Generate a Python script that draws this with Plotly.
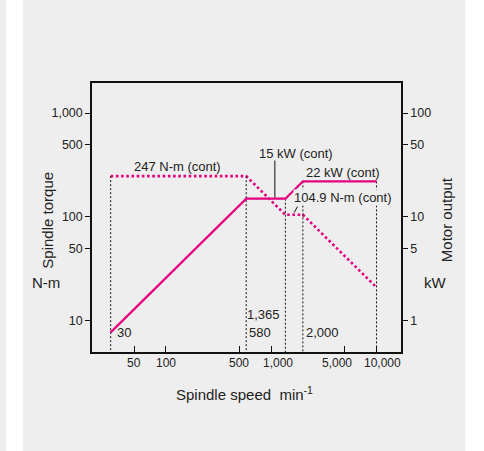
import math
import plotly.graph_objects as go

# ---- data ----
speed = [30, 580, 1365, 2000, 10000]          # min^-1
torque = [247, 247, 104.9, 105, 21]            # N-m (cont)
power = [0.776, 15, 15, 22, 22]                # kW (cont)
x_ticks = [50, 100, 500, 1000, 5000, 10000]
x_ticktext = ["50", "100", "500", "1,000", "5,000", "10,000"]
x_label_shift = [0, 0, 0, 6.5, -8, 6]          # label offsets (px) as in the original
yl_ticks = [10, 50, 100, 500, 1000]
yl_ticktext = ["10", "50", "100", "500", "1,000"]
yr_ticks = [1, 5, 10, 50, 100]
yr_ticktext = ["1", "5", "10", "50", "100"]

MAG = "#E4007F"
PANEL = "#EEEEEE"
TXT = "#222222"
FONT = "Liberation Sans, Arial, Helvetica, sans-serif"

fig = go.Figure()

# vertical guide lines (top = upper of the two curves, on kW scale)
vx, vy = [], []
for s, t, p in zip(speed, torque, power):
    top = max(t / 10.0, p)
    vx += [s, s, None]
    vy += [top, 0.01, None]
fig.add_trace(go.Scatter(x=vx, y=vy, yaxis="y2", mode="lines",
                         line=dict(color="#111111", width=1, dash="2px,2px"),
                         hoverinfo="skip", showlegend=False))

# torque (dotted)
fig.add_trace(go.Scatter(x=speed, y=torque, mode="lines",
                         line=dict(color=MAG, width=2.6, dash="2.6px,2.6px"),
                         showlegend=False))
# power (solid)
fig.add_trace(go.Scatter(x=speed, y=power, yaxis="y2", mode="lines",
                         line=dict(color=MAG, width=2.2),
                         showlegend=False))

# leader lines
fig.add_trace(go.Scatter(x=[1084, 1084, None, 1777, 1653],
                         y=[349, 150, None, 126, 110.3], mode="lines",
                         line=dict(color="#111111", width=1),
                         hoverinfo="skip", showlegend=False))

L = math.log10
ann_font = dict(family=FONT, size=13, color=TXT)
annotations = [
    dict(x=L(128), y=L(torque[0]), text="247 N-m (cont)", xanchor="center", yanchor="bottom", yshift=1),
    dict(x=L(1726), y=2.610, text="15 kW (cont)", xanchor="center", yanchor="middle"),
    dict(x=L(4800), y=L(power[3] * 10), text="22 kW (cont)", xanchor="center", yanchor="bottom", yshift=0),
    dict(x=3.680, y=2.183, text="104.9 N-m (cont)", xanchor="center", yanchor="middle", bgcolor=PANEL),
    dict(x=L(speed[0]), y=L(power[0] * 10), text="30", xanchor="left", yanchor="middle", xshift=5),
    dict(x=L(speed[1]), y=L(power[0] * 10), text="580", xanchor="left", yanchor="middle", xshift=2),
    dict(x=L(speed[1]), y=1.062, text="1,365", xanchor="left", yanchor="middle", xshift=0),
    dict(x=L(speed[3]), y=L(power[0] * 10), text="2,000", xanchor="left", yanchor="middle", xshift=2),
]
for a in annotations:
    a.update(xref="x", yref="y", showarrow=False, font=ann_font, borderpad=0)

# x tick labels (drawn as annotations so they can carry the original offsets)
tick_font = dict(family=FONT, size=12, color=TXT)
xlabels = []
for v, t, sh in zip(x_ticks, x_ticktext, x_label_shift):
    xlabels.append(dict(x=L(v), y=0, xref="x", yref="paper", text=t, showarrow=False,
                        xanchor="center", yanchor="middle", xshift=sh, yshift=-11.3,
                        font=tick_font, borderpad=0))

title_font = dict(family=FONT, size=15, color=TXT)
titles = [
    dict(x=-0.1467, y=0.4907, text="Spindle torque", textangle=-90),
    dict(x=-0.150, y=0.2571, text="N-m"),
    dict(x=1.1462, y=0.4907, text="Motor output", textangle=-90),
    dict(x=1.1111, y=0.2571, text="kW"),
    dict(x=0.4946, y=-0.1528, text="Spindle speed  min<sup>-1</sup>"),
]
for a in titles:
    a.update(xref="paper", yref="paper", showarrow=False, font=title_font,
             xanchor="center", yanchor="middle")

shapes = [
    dict(type="rect", xref="paper", yref="paper", x0=-0.2235, x1=1.2083, y0=-0.40, y1=1.34,
         fillcolor=PANEL, line=dict(width=0), layer="below"),
    dict(type="rect", xref="paper", yref="paper", x0=-0.32, x1=-0.2786, y0=-0.40, y1=1.34,
         fillcolor=PANEL, line=dict(width=0), layer="below"),
]

axis_common = dict(showgrid=False, zeroline=False, linecolor="#111111", linewidth=1.5,
                   tickcolor="#111111", tickwidth=1, ticklen=5, tickangle=0,
                   tickfont=dict(family=FONT, size=12.5, color=TXT))

fig.update_layout(
    width=484, height=451,
    margin=dict(l=92, r=83.3, t=83.3, b=99.3, pad=0),
    paper_bgcolor="white", plot_bgcolor=PANEL,
    showlegend=False,
    xaxis=dict(type="log", range=[1.300, 4.232], tickvals=x_ticks, ticktext=x_ticktext,
               ticks="inside", showline=True, mirror=True, **axis_common),
    yaxis=dict(type="log", range=[0.701, 3.289], tickvals=yl_ticks, ticktext=yl_ticktext,
               ticks="outside", showline=True, **axis_common),
    yaxis2=dict(type="log", range=[-0.299, 2.289], tickvals=yr_ticks, ticktext=yr_ticktext,
                ticks="outside", showline=True, overlaying="y", side="right", **axis_common),
    annotations=annotations + xlabels + titles,
    shapes=shapes,
)
fig.update_xaxes(showticklabels=False, ticklen=6)

fig.write_html("out.html")
